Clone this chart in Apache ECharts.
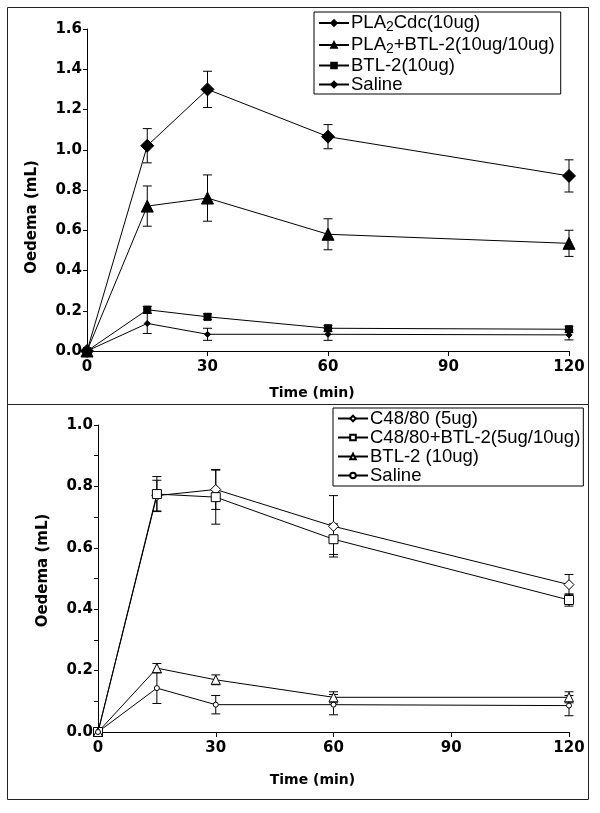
<!DOCTYPE html>
<html><head><meta charset="utf-8">
<script src="https://cdn.jsdelivr.net/npm/echarts@6/dist/echarts.min.js"></script>
<style>html,body{margin:0;padding:0;background:#fff}#c{width:600px;height:813px}</style>
</head><body><div id="c"></div>
<script>
// ---- data ----
const times = [0, 15, 30, 60, 120];
const xTicks = [0, 30, 60, 90, 120];
// top panel
const pla2Cdc = [0, 1.02, 1.30, 1.065, 0.87];
const pla2CdcErr = [0, 0.085, 0.09, 0.06, 0.08];
const pla2Btl = [0, 0.72, 0.76, 0.58, 0.535];
const pla2BtlErr = [0, 0.10, 0.115, 0.077, 0.065];
const btlTop = [0, 0.205, 0.17, 0.113, 0.108];
const btlTopErr = [0, 0.017, 0.015, 0.015, 0.015];
const salineTop = [0, 0.137, 0.083, 0.083, 0.08];
const salineTopErr = [0, 0.05, 0.03, 0.03, 0.025];
// bottom panel
const c48 = [0, 0.77, 0.79, 0.67, 0.48];
const c48Err = [0, 0.05, 0.065, 0.10, 0.033];
const c48Btl = [0, 0.775, 0.765, 0.628, 0.43];
const c48BtlErr = [0, 0.057, 0.088, 0.05, 0.02];
const btlBot = [0, 0.208, 0.17, 0.113, 0.113];
const btlBotErr = [0, 0.015, 0.016, 0.018, 0.018];
const salineBot = [0, 0.143, 0.089, 0.089, 0.086];
const salineBotErr = [0, 0.05, 0.03, 0.033, 0.033];

const topNames = ['PLA2Cdc(10ug)', 'PLA2+BTL-2(10ug/10ug)', 'BTL-2(10ug)', 'Saline'];
const botNames = ['C48/80 (5ug)', 'C48/80+BTL-2(5ug/10ug)', 'BTL-2 (10ug)', 'Saline '];

const chart = echarts.init(document.getElementById('c'), null, {renderer: 'canvas'});
const axisFont = {fontFamily: 'DejaVu Sans', fontWeight: 'bold', fontSize: 15, color: '#000'};
const nameFont = {fontFamily: 'DejaVu Sans', fontWeight: 'bold', fontSize: 14, color: '#000'};

function pts(vals) { return times.map((t, i) => [t, vals[i]]); }
function errPts(vals, errs) { return times.map((t, i) => [t, vals[i], errs[i]]); }

function errRender(params, api) {
  const x = api.value(0), y = api.value(1), e = api.value(2);
  if (!e) return null;
  const top = api.coord([x, y + e]);
  const bot = api.coord([x, y - e]);
  const hw = 4.5;
  const st = {stroke: '#000', lineWidth: 1};
  return {type: 'group', children: [
    {type: 'line', shape: {x1: top[0], y1: top[1], x2: bot[0], y2: bot[1]}, style: st},
    {type: 'line', shape: {x1: top[0] - hw, y1: top[1], x2: top[0] + hw, y2: top[1]}, style: st},
    {type: 'line', shape: {x1: bot[0] - hw, y1: bot[1], x2: bot[0] + hw, y2: bot[1]}, style: st}
  ]};
}

function errSeries(vals, errs, idx) {
  return {type: 'custom', xAxisIndex: idx, yAxisIndex: idx, renderItem: errRender,
    data: errPts(vals, errs), z: 1, silent: true, encode: {x: 0, y: 1}};
}

function lineSeries(name, vals, idx, symbol, size, filled) {
  return {type: 'line', name: name, xAxisIndex: idx, yAxisIndex: idx, data: pts(vals),
    symbol: symbol, symbolSize: size, showAllSymbol: true,
    lineStyle: {color: '#000', width: 1},
    itemStyle: filled ? {color: '#000', borderColor: '#000', borderWidth: 1}
                      : {color: '#fff', borderColor: '#000', borderWidth: 1},
    z: 3, animation: false};
}

const richFmt = {
  n: {fontFamily: 'Liberation Sans', fontSize: 18.5, color: '#000', lineHeight: 19},
  s: {fontFamily: 'Liberation Sans', fontSize: 14, color: '#000', lineHeight: 19, padding: [8, 0, 0, 0]}
};
function legendFmt(name) {
  if (name.indexOf('PLA2') === 0) {
    return '{n|PLA}{s|2}{n|' + name.slice(4) + '}';
  }
  return '{n|' + name + '}';
}

function xAxisDef(idx, pad) {
  return {type: 'value', gridIndex: idx, min: 0, max: 120, interval: 30,
    axisLine: {show: true, lineStyle: {color: '#000', width: 1}},
    axisTick: {show: true, length: 5, lineStyle: {color: '#000'}},
    axisLabel: Object.assign({margin: 9}, axisFont),
    splitLine: {show: false},
    name: 'Time (min)', nameLocation: 'middle', nameGap: idx === 0 ? 35 : 41,
    nameTextStyle: Object.assign({padding: [0, pad, 0, 0]}, nameFont)};
}

const option = {
  backgroundColor: '#fff',
  animation: false,
  graphic: [
    {type: 'rect', shape: {x: 7.5, y: 7.5, width: 581, height: 397}, style: {fill: 'none', stroke: '#222', lineWidth: 1}, z: -1},
    {type: 'rect', shape: {x: 7.5, y: 404.5, width: 581, height: 395}, style: {fill: 'none', stroke: '#222', lineWidth: 1}, z: -1}
  ],
  grid: [
    {left: 87, right: 31, top: 29, height: 322},
    {left: 98, right: 31, top: 425, height: 307}
  ],
  legend: [
    {data: topNames, orient: 'vertical', left: 314, top: 12, itemGap: 0, itemWidth: 30, itemHeight: 7,
      padding: [0, 6, 0, 4], borderColor: '#000', borderWidth: 1, borderRadius: 0,
      formatter: legendFmt, textStyle: {rich: richFmt, padding: [0, 0, 0, -3]}, selectedMode: false},
    {data: botNames, orient: 'vertical', left: 333, top: 408, itemGap: 0, itemWidth: 30, itemHeight: 7,
      padding: [1, 3, 1, 4], borderColor: '#000', borderWidth: 1, borderRadius: 0,
      formatter: legendFmt, textStyle: {rich: richFmt, padding: [0, 0, 0, -3]}, selectedMode: false}
  ],
  xAxis: [xAxisDef(0, 32), xAxisDef(1, 42)],
  yAxis: [
    {type: 'value', gridIndex: 0, min: 0, max: 1.6, interval: 0.2,
      axisLine: {show: true, lineStyle: {color: '#000', width: 1}},
      axisTick: {show: true, length: 4, lineStyle: {color: '#000'}},
      axisLabel: Object.assign({margin: 5, formatter: v => v.toFixed(1)}, axisFont),
      splitLine: {show: false},
      name: 'Oedema (mL)', nameLocation: 'middle', nameGap: 47,
      nameTextStyle: Object.assign({padding: [0, 54, 0, 0]}, nameFont, {fontSize: 15})},
    {type: 'value', gridIndex: 1, min: 0, max: 1.0, interval: 0.2,
      axisLine: {show: true, lineStyle: {color: '#000', width: 1}},
      axisTick: {show: true, length: 4, lineStyle: {color: '#000'}},
      minorTick: {show: true, splitNumber: 2, length: 4, lineStyle: {color: '#000'}},
      axisLabel: Object.assign({margin: 5, formatter: v => v.toFixed(1)}, axisFont),
      splitLine: {show: false},
      name: 'Oedema (mL)', nameLocation: 'middle', nameGap: 47,
      nameTextStyle: Object.assign({padding: [0, 0, 0, 16]}, nameFont, {fontSize: 15})}
  ],
  series: [
    errSeries(pla2Cdc, pla2CdcErr, 0),
    errSeries(pla2Btl, pla2BtlErr, 0),
    errSeries(btlTop, btlTopErr, 0),
    errSeries(salineTop, salineTopErr, 0),
    lineSeries(topNames[0], pla2Cdc, 0, 'diamond', 13, true),
    lineSeries(topNames[1], pla2Btl, 0, 'triangle', 12, true),
    lineSeries(topNames[2], btlTop, 0, 'rect', 7, true),
    lineSeries(topNames[3], salineTop, 0, 'diamond', 6, true),
    errSeries(c48, c48Err, 1),
    errSeries(c48Btl, c48BtlErr, 1),
    errSeries(btlBot, btlBotErr, 1),
    errSeries(salineBot, salineBotErr, 1),
    lineSeries(botNames[0], c48, 1, 'diamond', 10, false),
    lineSeries(botNames[1], c48Btl, 1, 'rect', 9, false),
    lineSeries(botNames[2], btlBot, 1, 'triangle', 9, false),
    lineSeries(botNames[3], salineBot, 1, 'circle', 5, false)
  ]
};
chart.setOption(option);
</script>
</body></html>
